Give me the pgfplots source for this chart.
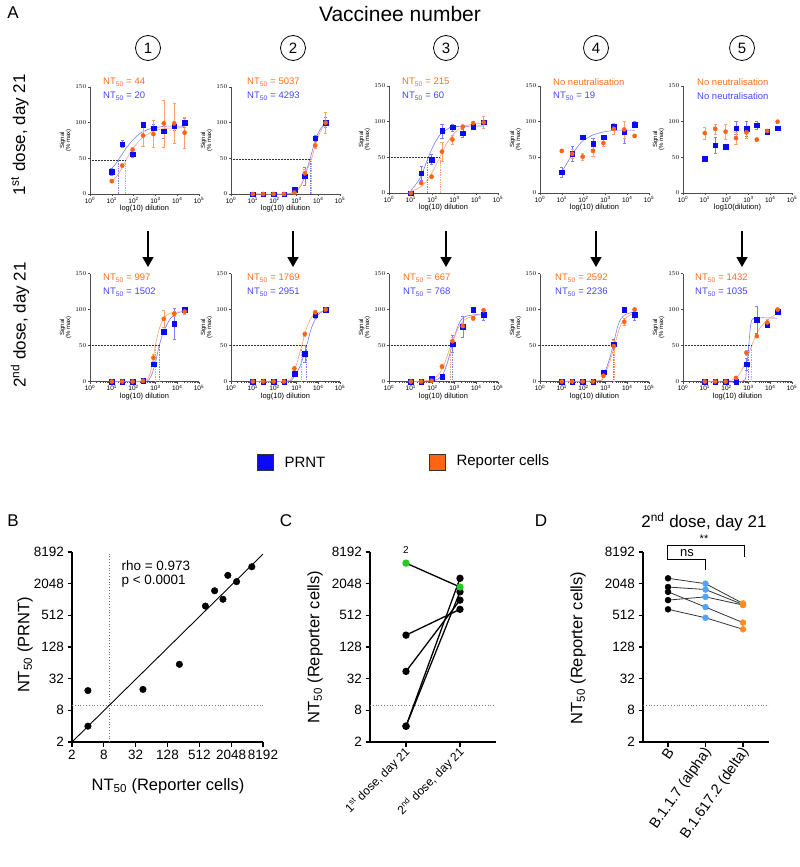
\documentclass[border=0pt]{standalone}
\usepackage{fontspec}
\setmainfont{Liberation Sans}
\usepackage{pgfplots}
\pgfplotsset{compat=1.18}
\usetikzlibrary{arrows.meta}
\definecolor{pblue}{RGB}{10,10,245}
\definecolor{pbluet}{RGB}{70,70,255}
\definecolor{pbluel}{RGB}{125,125,255}
\definecolor{orng}{RGB}{255,100,20}
\definecolor{orngt}{RGB}{255,110,30}
\definecolor{orngl}{RGB}{255,160,110}
\definecolor{lblue}{RGB}{80,165,250}
\definecolor{dorng}{RGB}{255,140,30}
\definecolor{grn}{RGB}{40,200,40}
\newcommand{\fs}[1]{\fontsize{#1}{#1}\selectfont}
\newcommand{\nt}[4]{\node[anchor=west,font=\fs{9.5},text=#4,inner sep=0pt] at (#1pt,-#2pt) {#3};}
\newcommand{\NT}{NT\textsubscript{50}}

\pgfplotsset{
  zzBluePts/.style={only marks, mark=square*, mark size=2.3pt, pblue,
    error bars/.cd, y dir=both, y explicit,
    error bar style={pbluel, line width=0.5pt},
    error mark options={rotate=90, pbluel, mark size=1.6pt, line width=0.5pt}},
  zzOrPts/.style={only marks, mark=*, mark size=2.1pt, orng,
    error bars/.cd, y dir=both, y explicit,
    error bar style={orngl, line width=0.5pt},
    error mark options={rotate=90, orngl, mark size=1.6pt, line width=0.5pt}},
  zzBlueFit/.style={no marks, smooth, pbluel, line width=0.6pt},
  zzOrFit/.style={no marks, smooth, orngl, line width=0.6pt},
  zzHDot/.style={no marks, black!80, densely dotted, line width=0.5pt},
  zzBDot/.style={no marks, pbluel, densely dotted, line width=0.7pt},
  zzODot/.style={no marks, orngl, densely dotted, line width=0.7pt},
  zzGDot/.style={no marks, black!55, dotted, line width=0.8pt},
  every axis/.append style={scale only axis, clip=false,
    axis lines=left, tick align=outside},
}

\begin{document}
\begin{tikzpicture}
\path[use as bounding box] (0,0) rectangle (800pt,-867pt);

% ---------- panel A headings ----------
\node[font=\fs{17}] at (13pt,-13pt) {A};
\node[font=\fs{21}] at (400pt,-14pt) {Vaccinee number};
\foreach \cx/\vnum in {148/1,293/2,446/3,596/4,742/5}{
  \node[circle,draw,line width=0.8pt,minimum size=25pt,inner sep=0pt,font=\fs{15}] at (\cx pt,-48pt) {\vnum};
  \draw[line width=1.4pt,-{Triangle[width=11pt,length=10pt]}] (\cx pt,-231pt) -- (\cx pt,-267pt);
}
\node[rotate=90,font=\fs{17}] at (20pt,-135pt) {1\textsuperscript{st} dose, day 21};
\node[rotate=90,font=\fs{17}] at (20pt,-325pt) {2\textsuperscript{nd} dose, day 21};

% ---------- ten small dose-response panels ----------
\begin{scope}
\pgfplotsset{every axis/.append style={width=109pt, height=107pt,
    xmode=log, xmin=1, xmax=100000, ymin=0, ymax=150,
    axis line style={-, black!70, line width=0.5pt},
    tick style={black!70, line width=0.4pt},
    major tick length=2pt, minor tick length=1pt,
    xtick={1,10,100,1000,10000,100000},
    xticklabels={10\textsuperscript{0},10\textsuperscript{1},10\textsuperscript{2},10\textsuperscript{3},10\textsuperscript{4},10\textsuperscript{5}},
    ytick={0,50,100,150},
    ticklabel style={font=\fs{6.5}, inner sep=1.5pt},
    xlabel style={font=\fs{7.5}, yshift=3pt},
    ylabel style={align=center, font=\fs{6}, yshift=-1pt}}}

\begin{axis}[xlabel={log(10) dilution}, ylabel={Signal\\(\% max)}, at={(90pt,-194pt)}, anchor=south west]
\addplot[zzBlueFit] coordinates {(10,36)(15,42)(20,48)(30,56)(50,66)(100,77)(200,85)(500,91)(1000,93)(3000,95)(21870,95)};
\addplot[zzOrFit] coordinates {(10,17)(20,28)(30,37)(44,47)(70,58)(100,65)(200,76)(500,85)(1000,89)(3000,92)(21870,93)};
\addplot[zzHDot] coordinates {(1,47)(44,47)};
\addplot[zzBDot] coordinates {(20,0)(20,47)};
\addplot[zzODot] coordinates {(44,0)(44,47)};
\addplot[zzBluePts] coordinates {(10,31)+-(0,5) (30,70)+-(0,5) (90,56)+-(0,5) (270,97)+-(0,3) (810,92)+-(0,6) (2430,88)+-(0,10) (7290,95)+-(0,5) (21870,100)+-(0,6)};
\addplot[zzOrPts] coordinates {(10,18)+-(0,2) (30,40)+-(0,2) (90,62)+-(0,4) (270,82)+-(0,15) (810,84)+-(0,19) (2430,99)+-(0,33) (7290,99)+-(0,28) (21870,86)+-(0,22)};
\end{axis}

\begin{axis}[xlabel={log(10) dilution}, ylabel={Signal\\(\% max)}, at={(231pt,-194pt)}, anchor=south west]
\addplot[zzBlueFit] coordinates {(10,0)(300,0)(800,3)(1500,10)(2430,25)(4293,50)(7290,75)(12000,90)(21870,100)};
\addplot[zzOrFit] coordinates {(10,0)(300,0)(800,2)(1500,10)(2430,26)(5037,50)(7290,68)(12000,86)(21870,100)};
\addplot[zzHDot] coordinates {(1,49)(5037,49)};
\addplot[zzBDot] coordinates {(4293,0)(4293,49)};
\addplot[zzODot] coordinates {(5037,0)(5037,49)};
\addplot[zzBluePts] coordinates {(10,0)+-(0,0) (30,0)+-(0,0) (90,0)+-(0,0) (270,0)+-(0,0) (810,6)+-(0,4) (2430,25)+-(0,13) (7290,78)+-(0,4) (21870,100)+-(0,7)};
\addplot[zzOrPts] coordinates {(10,0)+-(0,0) (30,0)+-(0,0) (90,0)+-(0,0) (270,0)+-(0,0) (810,2)+-(0,1) (2430,29)+-(0,5) (7290,68)+-(0,4) (21870,100)+-(0,15)};
\end{axis}

\begin{axis}[xlabel={log(10) dilution}, ylabel={Signal\\(\% max)}, at={(389pt,-193pt)}, anchor=south west]
\addplot[zzBlueFit] coordinates {(10,3)(20,15)(30,24)(60,48)(100,64)(200,80)(500,90)(1000,93)(21870,94)};
\addplot[zzOrFit] coordinates {(10,2)(30,9)(60,19)(100,30)(215,50)(400,67)(1000,84)(3000,94)(10000,97)(21870,98)};
\addplot[zzHDot] coordinates {(1,50)(215,50)};
\addplot[zzBDot] coordinates {(60,0)(60,50)};
\addplot[zzODot] coordinates {(215,0)(215,50)};
\addplot[zzBluePts] coordinates {(10,0)+-(0,0) (30,28)+-(0,10) (90,47)+-(0,7) (270,87)+-(0,10) (810,92)+-(0,5) (2430,84)+-(0,6) (7290,93)+-(0,4) (21870,99)+-(0,8)};
\addplot[zzOrPts] coordinates {(10,0)+-(0,0) (30,14)+-(0,2) (90,23)+-(0,2) (270,58)+-(0,13) (810,75)+-(0,6) (2430,93)+-(0,2) (7290,98)+-(0,2) (21870,99)+-(0,8)};
\end{axis}

\begin{axis}[xlabel={log(10) dilution}, ylabel={Signal\\(\% max)}, at={(540pt,-193pt)}, anchor=south west]
\addplot[zzBlueFit] coordinates {(10,30)(20,45)(30,54)(60,67)(100,74)(300,82)(1000,86)(3000,88)(21870,88)};
\addplot[zzBluePts] coordinates {(10,29)+-(0,7) (30,55)+-(0,10) (90,78)+-(0,2) (270,69)+-(0,8) (810,78)+-(0,3) (2430,93)+-(0,3) (7290,85)+-(0,15) (21870,96)+-(0,4)};
\addplot[zzOrPts] coordinates {(10,59)+-(0,2) (30,55)+-(0,6) (90,51)+-(0,5) (270,59)+-(0,8) (810,70)+-(0,5) (2430,90)+-(0,8) (7290,89)+-(0,12) (21870,80)+-(0,2)};
\end{axis}

\begin{axis}[xlabel={log10(dilution)}, ylabel={Signal\\(\% max)}, at={(683pt,-193pt)}, anchor=south west]
\addplot[zzBluePts] coordinates {(10,48)+-(0,2) (30,67)+-(0,11) (90,65)+-(0,3) (270,91)+-(0,9) (810,90)+-(0,10) (2430,95)+-(0,5) (7290,86)+-(0,3) (21870,91)+-(0,3)};
\addplot[zzOrPts] coordinates {(10,84)+-(0,8) (30,90)+-(0,7) (90,86)+-(0,11) (270,77)+-(0,8) (810,85)+-(0,8) (2430,75)+-(0,2) (7290,87)+-(0,3) (21870,100)+-(0,2)};
\end{axis}

\begin{axis}[xlabel={log(10) dilution}, ylabel={Signal\\(\% max)}, height=108pt, at={(90pt,-381.5pt)}, anchor=south west]
\addplot[zzBlueFit] coordinates {(10,0)(300,0)(600,6)(1000,26)(1502,50)(2430,70)(5000,88)(10000,95)(21870,98)};
\addplot[zzOrFit] coordinates {(10,0)(300,1)(600,14)(997,50)(1500,73)(2430,88)(5000,95)(21870,97)};
\addplot[zzHDot] coordinates {(1,50)(1502,50)};
\addplot[zzBDot] coordinates {(1502,0)(1502,50)};
\addplot[zzODot] coordinates {(997,0)(997,50)};
\addplot[zzBluePts] coordinates {(10,0)+-(0,0) (30,0)+-(0,0) (90,0)+-(0,0) (270,1)+-(0,1) (810,24)+-(0,3) (2430,69)+-(0,3) (7290,80)+-(0,22) (21870,100)+-(0,3)};
\addplot[zzOrPts] coordinates {(10,0)+-(0,0) (30,0)+-(0,0) (90,0)+-(0,0) (270,1)+-(0,1) (810,33)+-(0,5) (2430,87)+-(0,12) (7290,94)+-(0,4) (21870,97)+-(0,3)};
\end{axis}

\begin{axis}[xlabel={log(10) dilution}, ylabel={Signal\\(\% max)}, height=108pt, at={(231pt,-381.5pt)}, anchor=south west]
\addplot[zzBlueFit] coordinates {(10,0)(400,0)(810,8)(1500,22)(2951,50)(5000,75)(10000,93)(21870,99)};
\addplot[zzOrFit] coordinates {(10,0)(400,1)(810,15)(1769,50)(3000,75)(6000,92)(21870,99)};
\addplot[zzHDot] coordinates {(1,50)(2951,50)};
\addplot[zzBDot] coordinates {(2951,0)(2951,50)};
\addplot[zzODot] coordinates {(1769,0)(1769,50)};
\addplot[zzBluePts] coordinates {(10,0)+-(0,0) (30,0)+-(0,0) (90,0)+-(0,0) (270,0)+-(0,0) (810,11)+-(0,3) (2430,39)+-(0,12) (7290,92)+-(0,4) (21870,100)+-(0,2)};
\addplot[zzOrPts] coordinates {(10,0)+-(0,0) (30,0)+-(0,0) (90,0)+-(0,0) (270,0)+-(0,0) (810,18)+-(0,3) (2430,66)+-(0,3) (7290,96)+-(0,3) (21870,100)+-(0,2)};
\end{axis}

\begin{axis}[xlabel={log(10) dilution}, ylabel={Signal\\(\% max)}, height=108pt, at={(389pt,-381.5pt)}, anchor=south west]
\addplot[zzBlueFit] coordinates {(10,0)(100,1)(270,8)(500,28)(768,50)(1500,78)(3000,90)(21870,94)};
\addplot[zzOrFit] coordinates {(10,0)(100,3)(270,17)(500,38)(667,50)(1500,74)(3000,86)(10000,92)(21870,93)};
\addplot[zzHDot] coordinates {(1,50)(768,50)};
\addplot[zzBDot] coordinates {(768,0)(768,50)};
\addplot[zzODot] coordinates {(667,0)(667,50)};
\addplot[zzBluePts] coordinates {(10,0)+-(0,0) (30,0)+-(0,0) (90,4)+-(0,1) (270,7)+-(0,2) (810,52)+-(0,12) (2430,76)+-(0,15) (7290,100)+-(0,2) (21870,93)+-(0,8)};
\addplot[zzOrPts] coordinates {(10,0)+-(0,0) (30,0)+-(0,0) (90,1)+-(0,1) (270,21)+-(0,2) (810,56)+-(0,6) (2430,77)+-(0,4) (7290,88)+-(0,3) (21870,99)+-(0,2)};
\end{axis}

\begin{axis}[xlabel={log(10) dilution}, ylabel={Signal\\(\% max)}, height=108pt, at={(540pt,-381.5pt)}, anchor=south west]
\addplot[zzBlueFit] coordinates {(10,0)(500,1)(810,8)(1500,30)(2236,50)(4000,80)(7290,92)(21870,97)};
\addplot[zzOrFit] coordinates {(10,0)(500,1)(810,7)(1500,25)(2592,50)(5000,78)(10000,90)(21870,95)};
\addplot[zzHDot] coordinates {(1,50)(2592,50)};
\addplot[zzBDot] coordinates {(2236,0)(2236,50)};
\addplot[zzODot] coordinates {(2592,0)(2592,50)};
\addplot[zzBluePts] coordinates {(10,0)+-(0,0) (30,0)+-(0,0) (90,0)+-(0,0) (270,0)+-(0,0) (810,13)+-(0,2) (2430,52)+-(0,6) (7290,100)+-(0,2) (21870,93)+-(0,8)};
\addplot[zzOrPts] coordinates {(10,0)+-(0,0) (30,0)+-(0,0) (90,0)+-(0,0) (270,0)+-(0,0) (810,8)+-(0,2) (2430,49)+-(0,8) (7290,83)+-(0,5) (21870,100)+-(0,2)};
\end{axis}

\begin{axis}[xlabel={log(10) dilution}, ylabel={Signal\\(\% max)}, height=108pt, at={(683pt,-381.5pt)}, anchor=south west]
\addplot[zzBlueFit] coordinates {(10,0)(500,0)(800,15)(1035,50)(1300,80)(2000,88)(21870,88)};
\addplot[zzOrFit] coordinates {(10,0)(100,1)(300,6)(700,25)(1432,50)(3000,72)(7290,85)(21870,95)};
\addplot[zzHDot] coordinates {(1,50)(1432,50)};
\addplot[zzBDot] coordinates {(1035,0)(1035,50)};
\addplot[zzODot] coordinates {(1432,0)(1432,50)};
\addplot[zzBluePts] coordinates {(10,0)+-(0,0) (30,0)+-(0,0) (90,0)+-(0,0) (270,0)+-(0,0) (810,24)+-(0,8) (2430,86)+-(0,19) (7290,78)+-(0,3) (21870,97)+-(0,2)};
\addplot[zzOrPts] coordinates {(10,0)+-(0,0) (30,0)+-(0,0) (90,0)+-(0,0) (270,5)+-(0,2) (810,40)+-(0,3) (2430,63)+-(0,2) (7290,82)+-(0,5) (21870,100)+-(0,2)};
\end{axis}
\end{scope}

% NT50 annotations
\nt{103}{82}{\NT{} = 44}{orngt}       \nt{103}{96}{\NT{} = 20}{pbluet}
\nt{247}{82}{\NT{} = 5037}{orngt}     \nt{247}{96}{\NT{} = 4293}{pbluet}
\nt{402}{82}{\NT{} = 215}{orngt}      \nt{402}{96}{\NT{} = 60}{pbluet}
\nt{553}{82}{No neutralisation}{orngt} \nt{553}{96}{\NT{} = 19}{pbluet}
\nt{697}{82}{No neutralisation}{orngt} \nt{697}{96}{No neutralisation}{pbluet}
\nt{103}{278}{\NT{} = 997}{orngt}     \nt{103}{292}{\NT{} = 1502}{pbluet}
\nt{247}{278}{\NT{} = 1769}{orngt}    \nt{247}{292}{\NT{} = 2951}{pbluet}
\nt{403}{278}{\NT{} = 667}{orngt}     \nt{403}{292}{\NT{} = 768}{pbluet}
\nt{555}{278}{\NT{} = 2592}{orngt}    \nt{555}{292}{\NT{} = 2236}{pbluet}
\nt{695}{278}{\NT{} = 1432}{orngt}    \nt{695}{292}{\NT{} = 1035}{pbluet}

% legend
\node[draw=black!80,fill=pblue,minimum size=16pt,inner sep=0pt] at (265pt,-462pt) {};
\node[anchor=west,font=\fs{15}] at (281pt,-462pt) {PRNT};
\node[draw=black!80,fill=orng,minimum size=16pt,inner sep=0pt] at (437pt,-462pt) {};
\node[anchor=west,font=\fs{15}] at (453pt,-462pt) {Reporter cells};

% ---------- panels B, C, D ----------
\begin{scope}
\pgfplotsset{every axis/.append style={height=190pt,
    ymode=log, log basis y=2, ymin=2, ymax=8192,
    ytick={2,8,32,128,512,2048,8192}, yticklabels={2,8,32,128,512,2048,8192},
    axis line style={-, line width=1.1pt},
    tick style={black, line width=1.1pt}, major tick length=4.5pt,
    ticklabel style={font=\fs{13.5}}}}

\node[font=\fs{17}] at (13pt,-521pt) {B};
\begin{axis}[width=191pt,
  xmode=log, log basis x=2, xmin=2, xmax=8192,
  xtick={2,8,32,128,512,2048,8192}, xticklabels={2,8,32,128,512,2048,8192},
  at={(72pt,-742pt)}, anchor=south west]
\addplot[zzGDot] coordinates {(2,10)(8192,10)};
\addplot[zzGDot] coordinates {(10,2)(10,8192)};
\addplot[no marks, black, line width=0.9pt] coordinates {(2,2)(8192,7500)};
\addplot[only marks, mark=*, mark size=3.3pt, black] coordinates {(44,20)(5037,4293)(215,60)(4,19)(4,4)(997,1502)(1769,2951)(667,768)(2592,2236)(1432,1035)};
\end{axis}
\node[anchor=west,font=\fs{13.5}] at (118pt,-566pt) {rho = 0.973};
\node[anchor=west,font=\fs{13.5}] at (118pt,-581pt) {p < 0.0001};
\node[rotate=90,font=\fs{16.5}] at (25pt,-645pt) {\NT{} (PRNT)};
\node[font=\fs{16.5}] at (168pt,-786pt) {\NT{} (Reporter cells)};

\node[font=\fs{17}] at (286pt,-521pt) {C};
\begin{axis}[width=126pt,
  xmin=0.333, xmax=2.667, xtick={1,2},
  xticklabels={{1\textsuperscript{st} dose, day 21},{2\textsuperscript{nd} dose, day 21}},
  xticklabel style={rotate=45, anchor=east, font=\fs{12}, inner sep=1pt, yshift=-4pt},
  at={(370pt,-742pt)}, anchor=south west]
\addplot[zzGDot] coordinates {(0.333,10)(2.667,10)};
\addplot[mark=*, mark size=3pt, black, line width=1.3pt] coordinates {(1,44)(2,997)};
\addplot[mark=*, mark size=3pt, black, line width=1.3pt] coordinates {(1,215)(2,667)};
\addplot[mark=*, mark size=3pt, black, line width=1.3pt] coordinates {(1,4)(2,2592)};
\addplot[mark=*, mark size=3pt, black, line width=1.3pt] coordinates {(1,4)(2,1432)};
\addplot[mark=*, mark size=3pt, mark options={grn, draw=grn}, black, line width=1.3pt] coordinates {(1,5037)(2,1769)};
\node[font=\fs{10}] at (axis cs:1,5037) [yshift=13pt] {2};
\end{axis}
\node[rotate=90,font=\fs{16.5}] at (315pt,-647pt) {\NT{} (Reporter cells)};

\node[font=\fs{17}] at (541pt,-521pt) {D};
\node[font=\fs{17}] at (704pt,-522pt) {2\textsuperscript{nd} dose, day 21};
\begin{axis}[width=126pt,
  xmin=0.333, xmax=3.693, xtick={1,2,3},
  xticklabels={B,B.1.1.7 (alpha),B.1.617.2 (delta)},
  xticklabel style={rotate=55, anchor=east, font=\fs{14.5}, inner sep=1pt, yshift=-4pt},
  at={(643pt,-742pt)}, anchor=south west]
\addplot[zzGDot] coordinates {(0.333,10)(3.693,10)};
\addplot[no marks, black!80, line width=0.8pt] coordinates {(1,2592)(2,2048)(3,861)};
\addplot[no marks, black!80, line width=0.8pt] coordinates {(1,1769)(2,1585)(3,820)};
\addplot[no marks, black!80, line width=0.8pt] coordinates {(1,1432)(2,735)(3,372)};
\addplot[no marks, black!80, line width=0.8pt] coordinates {(1,997)(2,1150)(3,803)};
\addplot[no marks, black!80, line width=0.8pt] coordinates {(1,667)(2,460)(3,278)};
\addplot[only marks, mark=*, mark size=3pt, black] coordinates {(1,2592)(1,1769)(1,1432)(1,997)(1,667)};
\addplot[only marks, mark=*, mark size=3pt, lblue] coordinates {(2,2048)(2,1585)(2,735)(2,1150)(2,460)};
\addplot[only marks, mark=*, mark size=3pt, dorng] coordinates {(3,861)(3,820)(3,372)(3,803)(3,278)};
\end{axis}
\end{scope}
\draw[line width=0.8pt] (667pt,-559pt) -- (667pt,-545.7pt) -- (744pt,-545.7pt) -- (744pt,-556.7pt);
\node[font=\fs{11}] at (704pt,-539pt) {**};
\draw[line width=0.8pt] (667pt,-559.3pt) -- (705.7pt,-559.3pt) -- (705.7pt,-570pt);
\node[font=\fs{13}] at (687pt,-553pt) {ns};
\node[rotate=90,font=\fs{16.5}] at (578pt,-648pt) {\NT{} (Reporter cells)};
\end{tikzpicture}
\end{document}
